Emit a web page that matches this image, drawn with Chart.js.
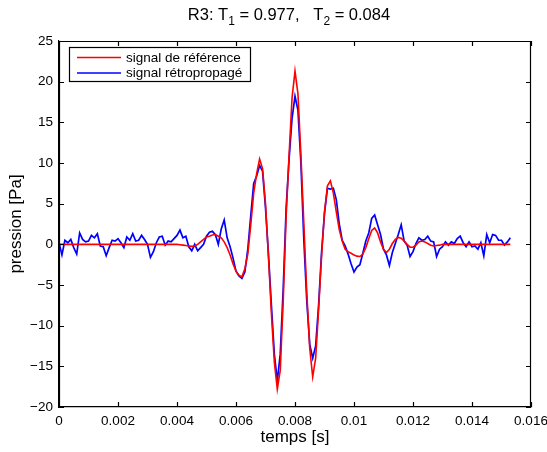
<!DOCTYPE html>
<html lang="fr">
  <head>
    <meta charset="UTF-8" />
    <title>R3 signal</title>
    <script src="https://cdn.jsdelivr.net/npm/chart.js@4.4.0/dist/chart.umd.min.js"></script>
    <style>
      html, body { margin: 0; padding: 0; background: #fff; }
      #graph { width: 547px; height: 452px; }
    </style>
  </head>
  <body>
    <div id="graph"><canvas id="myChart" width="547" height="452"></canvas></div>
    <script>
      // sampling period of both signals (s)
      const sampleStep = 0.0001;

      const refLabel = "signal de référence";
      const backLabel = "signal rétropropagé";

      // signal de référence [Pa]
      const refSignal = [
        0, 0, 0, 0, 0, 0, 0, 0, 0, 0,
        0, 0, 0, 0, 0, 0, 0, 0, 0, 0,
        0, 0, 0, 0, 0, 0, 0, 0, 0, 0,
        0, 0, 0, 0, 0, 0, 0, 0, 0, 0,
        0, -0.05, -0.1, -0.15, -0.2, -0.25, -0.2, 0, 0.3, 0.6,
        0.9, 1.0, 1.15, 1.2, 1.0, 0.8, 0.3, -0.4, -1.3, -2.4,
        -3.3, -3.8, -4.0, -3.0, -1.2, 2.4, 6.3, 8.7, 10.5, 9.3,
        5, -1.5, -8.5, -14.5, -17.8, -15.5, -7, 3.5, 11, 18,
        21.3, 18.5, 11, 2.5, -6, -12.8, -16.3, -14, -8, -1.5,
        4, 7.2, 7.8, 6.3, 4, 1.8, 0.4, -0.6, -0.9, -1.1,
        -1.3, -1.45, -1.5, -1.2, -0.4, 0.7, 1.7, 2.0, 1.4, 0.3,
        -0.6, -1.0, -0.6, 0.1, 0.6, 0.85, 0.75, 0.4, 0, -0.35,
        -0.35, -0.1, 0.3, 0.4, 0.3, 0.1, -0.1, -0.2, -0.15, -0.1,
        0, 0, 0, 0, 0, 0, 0, 0, 0, 0,
        0, 0, 0, 0, 0, 0, 0, 0, 0, 0,
        0, 0, 0, 0
      ];

      // signal rétropropagé [Pa]
      const backSignal = [
        0.2, -1.3, 0.5, 0.2, 0.6, -0.4, -1.2, 1.4, 0.6, 0.3,
        0.4, 1.1, 0.8, 1.3, -0.2, -0.3, -1.4, -0.4, 0.5, 0.4,
        0.7, 0.2, -0.4, 0.9, 0.5, 1.3, 0.4, 0.5, 1.1, 0.6,
        0, -1.6, -0.9, 0.2, 0.9, 1.0, -0.1, 0.4, 0.3, 0.7,
        1.1, 1.75, 0.8, 1.0, -0.3, -0.8, 0, -0.8, -0.4, 0,
        1.0, 1.5, 1.6, 1.2, 0, 1.9, 3.0, 0.8, -0.3, -1.7,
        -3.3, -3.9, -4.2, -3.4, -0.6, 3.5, 7.5, 8.4, 9.7, 9.0,
        4.5, -1.2, -7.5, -13.5, -16.8, -13.5, -5.5, 4.5, 10.5, 15.5,
        18.2, 16.5, 10, 0.5, -7, -12.3, -14, -12.5, -7.5, -1,
        3.8, 6.9, 6.8, 6.9, 5.5, 2.5, 0.5, -0.2, -1.2, -2.4,
        -3.4, -2.8, -2.5, -1.1, 0.4, 1.4, 3.2, 3.6, 2.4, 1.2,
        -0.6, -1.3, -2.6, -1.0, 0.1, 1.2, 2.4, 0.4, -0.1, -1.5,
        -0.9, 0.1, 0.8, 0.5, 0.6, 1.0, 0.4, 0.3, -1.5, -0.6,
        -0.3, 0.3, -0.1, 0.3, 0.1, 0.7, 1.0, 0.2, -0.3, 0.3,
        -0.3, -0.2, -0.6, 0.2, -1.4, 1.2, 0.2, 1.2, 1.1, 0.5,
        0.5, -0.1, 0.3, 0.8
      ];

      const xTicks = [0, 0.002, 0.004, 0.006, 0.008, 0.01, 0.012, 0.014, 0.016];
      const yTicks = [-20, -15, -10, -5, 0, 5, 10, 15, 20, 25];

      const FONT = "'Liberation Sans', Arial, Helvetica, sans-serif";

      const toPoints = (arr) => arr.map((v, i) => ({ x: i * sampleStep, y: v }));

      // box on all four sides + ticks pointing inward (matlab style)
      const boxTicks = {
        id: "boxTicks",
        afterDraw(chart) {
          const { ctx, chartArea: a, scales } = chart;
          const len = 5;
          ctx.save();
          ctx.strokeStyle = "#000";
          ctx.lineWidth = 1.2;
          ctx.beginPath();
          ctx.rect(a.left + 0.5, a.top + 0.5, a.right - a.left - 1, a.bottom - a.top - 1);
          xTicks.forEach((t) => {
            const px = Math.round(scales.x.getPixelForValue(t)) + 0.5;
            ctx.moveTo(px, a.bottom);
            ctx.lineTo(px, a.bottom - len);
            ctx.moveTo(px, a.top);
            ctx.lineTo(px, a.top + len);
          });
          yTicks.forEach((t) => {
            const py = Math.round(scales.y.getPixelForValue(t)) + 0.5;
            ctx.moveTo(a.left, py);
            ctx.lineTo(a.left + len, py);
            ctx.moveTo(a.right, py);
            ctx.lineTo(a.right - len, py);
          });
          ctx.stroke();
          ctx.restore();
        },
      };

      const legendBox = {
        id: "legendBox",
        afterDraw(chart) {
          const { ctx } = chart;
          const x0 = 69, y0 = 47, w = 181, h = 34;
          ctx.save();
          ctx.fillStyle = "#fff";
          ctx.fillRect(x0, y0, w, h);
          ctx.strokeStyle = "#000";
          ctx.lineWidth = 1.2;
          ctx.strokeRect(x0 + 0.5, y0 + 0.5, w, h);
          ctx.font = "13.5px " + FONT;
          ctx.textBaseline = "middle";
          chart.data.datasets.forEach((ds, i) => {
            const y = y0 + 10.5 + i * 15.5;
            ctx.strokeStyle = ds.borderColor;
            ctx.lineWidth = 1.6;
            ctx.beginPath();
            ctx.moveTo(x0 + 8, y);
            ctx.lineTo(x0 + 52, y);
            ctx.stroke();
            ctx.fillStyle = "#000";
            ctx.fillText(ds.label, x0 + 57, y + 0.5);
          });
          ctx.restore();
        },
      };

      // title with subscripts
      const titleSub = {
        id: "titleSub",
        afterDraw(chart) {
          const { ctx } = chart;
          const parts = [
            ["R3: T", 0], ["1", 1], [" = 0.977,   T", 0], ["2", 1], [" = 0.084", 0],
          ];
          const big = "16.5px " + FONT, small = "12px " + FONT;
          ctx.save();
          ctx.fillStyle = "#000";
          ctx.textBaseline = "alphabetic";
          let total = 0;
          parts.forEach(([s, sub]) => {
            ctx.font = sub ? small : big;
            total += ctx.measureText(s).width;
          });
          let x = 289 - total / 2;
          const base = 20;
          parts.forEach(([s, sub]) => {
            ctx.font = sub ? small : big;
            ctx.fillText(s, x, sub ? base + 5 : base);
            x += ctx.measureText(s).width;
          });
          ctx.restore();
        },
      };

      const ctx = document.getElementById("myChart").getContext("2d");
      const myChart = new Chart(ctx, {
        type: "line",
        data: {
          datasets: [
            {
              label: refLabel,
              data: toPoints(refSignal),
              borderColor: "#ff0000",
              borderWidth: 1.6,
              pointRadius: 0,
              tension: 0,
            },
            {
              label: backLabel,
              data: toPoints(backSignal),
              borderColor: "#0000ff",
              borderWidth: 1.7,
              pointRadius: 0,
              tension: 0,
            },
          ],
        },
        options: {
          responsive: false,
          animation: false,
          layout: { padding: { left: 0, right: 16, top: 41, bottom: 0 } },
          plugins: {
            legend: { display: false },
            title: { display: false },
            tooltip: { enabled: false },
          },
          scales: {
            x: {
              type: "linear",
              min: 0,
              max: 0.016,
              afterFit: (s) => { s.height = 45; s.paddingLeft = 0; s.paddingRight = 0; },
              afterBuildTicks: (s) => { s.ticks = xTicks.map((v) => ({ value: v })); },
              grid: { display: true, drawOnChartArea: false, drawTicks: false },
              border: { display: true, color: "#000", width: 1.2 },
              ticks: {
                color: "#000",
                padding: 6,
                maxRotation: 0,
                font: { family: FONT, size: 13.5 },
                callback: (v) => String(Number(v.toFixed(3))),
              },
              title: {
                display: true,
                text: "temps [s]",
                color: "#000",
                font: { family: FONT, size: 17 },
                padding: { top: 0, bottom: 4 },
              },
            },
            y: {
              min: -20,
              max: 25,
              afterFit: (s) => { s.width = 59; s.paddingTop = 0; s.paddingBottom = 0; },
              afterBuildTicks: (s) => { s.ticks = yTicks.map((v) => ({ value: v })); },
              grid: { display: true, drawOnChartArea: false, drawTicks: false },
              border: { display: true, color: "#000", width: 1.2 },
              ticks: {
                color: "#000",
                padding: 6,
                font: { family: FONT, size: 13.5 },
                callback: (v) => (v < 0 ? "\u2212" + Math.abs(v) : String(v)),
              },
              title: {
                display: true,
                text: "pression [Pa]",
                color: "#000",
                font: { family: FONT, size: 17 },
                padding: { top: 6, bottom: 0 },
              },
            },
          },
        },
        plugins: [boxTicks, legendBox, titleSub],
      });
    </script>
  </body>
</html>
